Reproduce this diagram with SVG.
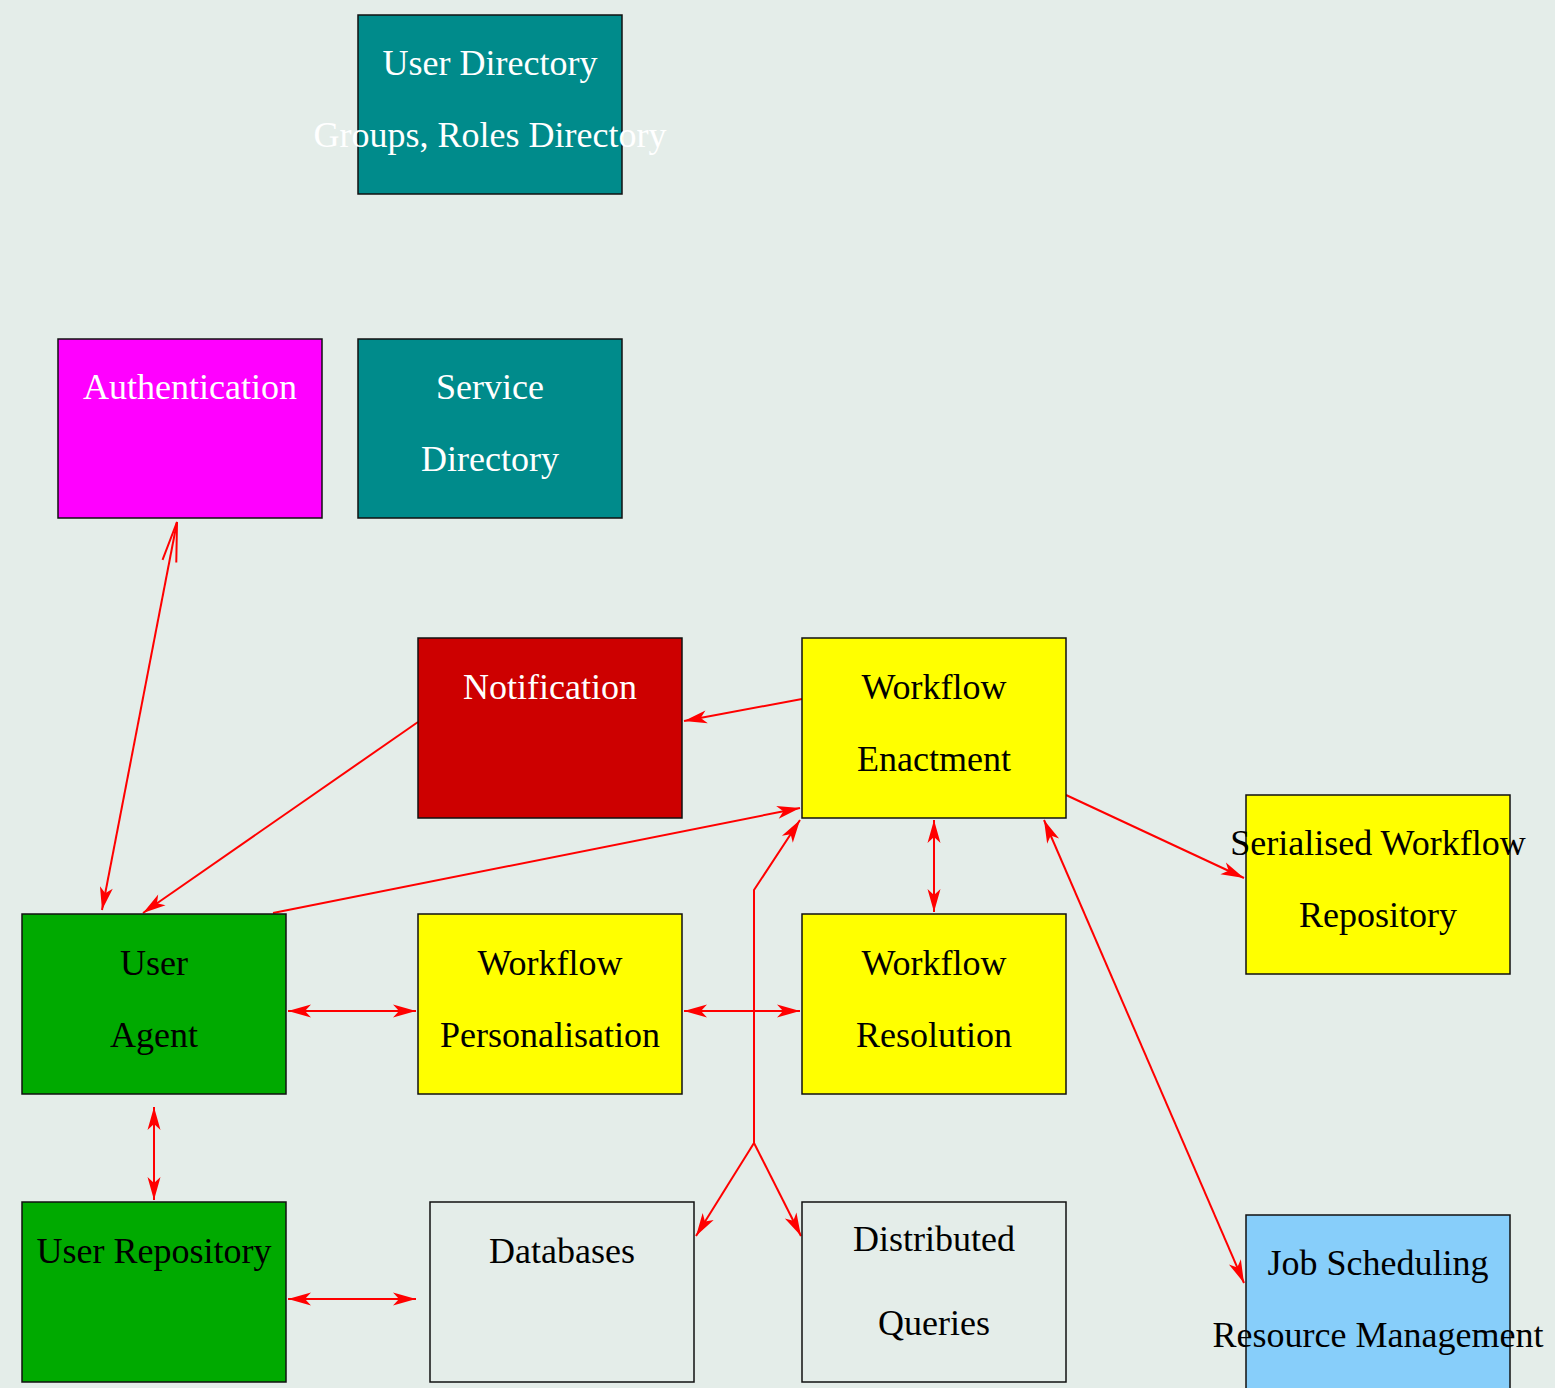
<svg xmlns="http://www.w3.org/2000/svg" width="1555" height="1388" viewBox="0 0 1555 1388">
<defs>
<style>
.box{stroke:#111111;stroke-width:1.5}
.t{font-family:"Liberation Serif","Times New Roman",serif;font-size:36px;text-anchor:middle}
.w{fill:#ffffff}
.b{fill:#000000}
.c{fill:none;stroke:#ff0000;stroke-width:2}
</style>
<marker id="ah" markerUnits="userSpaceOnUse" viewBox="-26 -8 28 16" refX="0" refY="0" markerWidth="28" markerHeight="16" orient="auto-start-reverse">
<path d="M0,0 L-23,-6.5 L-17,0 L-23,6.5 Z" fill="#ff0000"/>
</marker>
<marker id="ov" markerUnits="userSpaceOnUse" viewBox="-42 -10 44 20" refX="0" refY="0" markerWidth="44" markerHeight="20" orient="auto-start-reverse">
<path d="M-40,-7 L0,0 L-40,7" fill="none" stroke="#ff0000" stroke-width="2"/>
</marker>
</defs>
<rect x="0" y="0" width="1555" height="1388" fill="#e4ede9"/>
<g id="connectors">
<line class="c" x1="102" y1="910" x2="177" y2="522" marker-start="url(#ah)" marker-end="url(#ov)"/>
<line class="c" x1="418" y1="722" x2="143" y2="913" marker-end="url(#ah)"/>
<line class="c" x1="802" y1="699" x2="684" y2="721" marker-end="url(#ah)"/>
<line class="c" x1="273" y1="913" x2="800" y2="808" marker-end="url(#ah)"/>
<line class="c" x1="288" y1="1011" x2="416" y2="1011" marker-start="url(#ah)" marker-end="url(#ah)"/>
<line class="c" x1="684" y1="1011" x2="800" y2="1011" marker-start="url(#ah)" marker-end="url(#ah)"/>
<line class="c" x1="934" y1="820" x2="934" y2="912" marker-start="url(#ah)" marker-end="url(#ah)"/>
<line class="c" x1="1066" y1="795" x2="1244" y2="878" marker-end="url(#ah)"/>
<line class="c" x1="1044" y1="820" x2="1244" y2="1283" marker-start="url(#ah)" marker-end="url(#ah)"/>
<line class="c" x1="154" y1="1107" x2="154" y2="1200" marker-start="url(#ah)" marker-end="url(#ah)"/>
<line class="c" x1="288" y1="1299" x2="416" y2="1299" marker-start="url(#ah)" marker-end="url(#ah)"/>
<polyline class="c" points="754,1143 754,890 800,820" marker-end="url(#ah)"/>
<line class="c" x1="754" y1="1143" x2="696" y2="1236" marker-end="url(#ah)"/>
<line class="c" x1="754" y1="1143" x2="801" y2="1236" marker-end="url(#ah)"/>
</g>
<g id="user-directory">
<rect class="box" x="358" y="15" width="264" height="179" fill="#008b8b"/>
<text class="t w" x="490" y="75">User Directory</text>
<text class="t w" x="490" y="147">Groups, Roles Directory</text>
</g>
<g id="authentication">
<rect class="box" x="58" y="339" width="264" height="179" fill="#ff00ff"/>
<text class="t w" x="190" y="399">Authentication</text>
</g>
<g id="service-directory">
<rect class="box" x="358" y="339" width="264" height="179" fill="#008b8b"/>
<text class="t w" x="490" y="399">Service</text>
<text class="t w" x="490" y="471">Directory</text>
</g>
<g id="notification">
<rect class="box" x="418" y="638" width="264" height="180" fill="#cd0000"/>
<text class="t w" x="550" y="699">Notification</text>
</g>
<g id="workflow-enactment">
<rect class="box" x="802" y="638" width="264" height="180" fill="#ffff00"/>
<text class="t b" x="934" y="699">Workflow</text>
<text class="t b" x="934" y="771">Enactment</text>
</g>
<g id="serialised-workflow-repository">
<rect class="box" x="1246" y="795" width="264" height="179" fill="#ffff00"/>
<text class="t b" x="1378" y="855">Serialised Workflow</text>
<text class="t b" x="1378" y="927">Repository</text>
</g>
<g id="user-agent">
<rect class="box" x="22" y="914" width="264" height="180" fill="#00aa00"/>
<text class="t b" x="154" y="975">User</text>
<text class="t b" x="154" y="1047">Agent</text>
</g>
<g id="workflow-personalisation">
<rect class="box" x="418" y="914" width="264" height="180" fill="#ffff00"/>
<text class="t b" x="550" y="975">Workflow</text>
<text class="t b" x="550" y="1047">Personalisation</text>
</g>
<g id="workflow-resolution">
<rect class="box" x="802" y="914" width="264" height="180" fill="#ffff00"/>
<text class="t b" x="934" y="975">Workflow</text>
<text class="t b" x="934" y="1047">Resolution</text>
</g>
<g id="user-repository">
<rect class="box" x="22" y="1202" width="264" height="180" fill="#00aa00"/>
<text class="t b" x="154" y="1263">User Repository</text>
</g>
<g id="databases">
<rect class="box" x="430" y="1202" width="264" height="180" fill="#e4ede9"/>
<text class="t b" x="562" y="1263">Databases</text>
</g>
<g id="distributed-queries">
<rect class="box" x="802" y="1202" width="264" height="180" fill="#e4ede9"/>
<text class="t b" x="934" y="1251">Distributed</text>
<text class="t b" x="934" y="1335">Queries</text>
</g>
<g id="job-scheduling">
<rect class="box" x="1246" y="1215" width="264" height="190" fill="#87cefa"/>
<text class="t b" x="1378" y="1275">Job Scheduling</text>
<text class="t b" x="1378" y="1347">Resource Management</text>
</g>
</svg>
